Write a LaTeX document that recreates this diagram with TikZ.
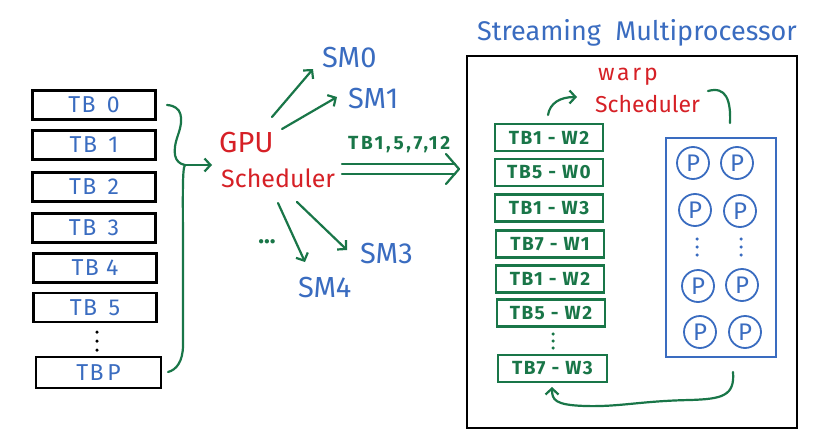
\documentclass[tikz,border=0pt]{standalone}
\usepackage{fontspec}
\setmainfont{Fira Sans}
\usetikzlibrary{arrows.meta}
\definecolor{hgreen}{RGB}{25,118,72}
\definecolor{hblue}{RGB}{58,108,192}
\definecolor{hred}{RGB}{214,32,38}
\tikzset{
  tbbox/.style={draw=black, line width=2.6pt, minimum width=123pt, minimum height=29pt, inner sep=0pt, text=hblue, font=\fontsize{23}{23}\selectfont\addfontfeatures{LetterSpace=6}},
  wbox/.style={draw=hgreen, line width=2.4pt, minimum width=108pt, minimum height=27pt, inner sep=0pt, text=hgreen, font=\fontsize{19}{19}\selectfont\bfseries\addfontfeatures{LetterSpace=8}},
  pcirc/.style={circle, draw=hblue, line width=1.8pt, minimum size=32pt, inner sep=0pt, text=hblue, font=\fontsize{24}{24}\selectfont},
  smlab/.style={text=hblue, font=\fontsize{29}{29}\selectfont, inner sep=0pt},
  redlab/.style={text=hred, inner sep=0pt},
  garrow/.style={draw=hgreen, line width=2.2pt, line cap=round, -{Straight Barb[length=6pt,width=13pt,line width=2.2pt]}},
  gline/.style={draw=hgreen, line width=2.2pt, line cap=round},
  dotg/.style={circle, fill=#1, inner sep=0pt, minimum size=3.5pt},
}
\begin{document}
\begin{tikzpicture}[x=1pt,y=-1pt]
\useasboundingbox (0,0) rectangle (814,439);
\fill[white] (0,0) rectangle (814,439);

% thread blocks
\node[tbbox] (tb0) at (94,105) {TB\ \,0};
\node[tbbox] (tb1) at (94,145) {TB\ \,1};
\node[tbbox] (tb2) at (94,187) {TB\ \,2};
\node[tbbox] (tb3) at (94,228) {TB\ \,3};
\node[tbbox] (tb4) at (95,268) {TB\ 4};
\node[tbbox] (tb5) at (95,307.5) {TB\ \,5};
\node[dotg=black] (d1) at (97,332) {};
\node[dotg=black] (d2) at (97,341) {};
\node[dotg=black] (d3) at (97,350) {};
\node[tbbox, minimum width=125pt, minimum height=31pt] (tbp) at (98.5,372.5) {TB\,P};

% brace
\coordinate (btop) at (167,105);
\coordinate (btip) at (185,165);
\coordinate (bbot) at (168,372);
\coordinate (bend) at (212,165);
\draw[gline] (btop) .. controls (182,106) and (184,118) .. (178,135)
  .. controls (172,152) and (174,163) .. (btip);
\draw[gline] (btip) .. controls (182,168) and (183,200) .. (183,260)
  -- (183,345) .. controls (183,362) and (176,370) .. (bbot);
\draw[garrow] (btip) -- (bend);

% GPU scheduler
\node[redlab, font=\fontsize{29}{29}\selectfont, anchor=base west] (gpu) at (219,152) {GPU};
\node[redlab, font=\fontsize{25}{25}\selectfont, anchor=base west] (sched) at (221,187) {Scheduler};

% SMs
\node[smlab, anchor=base west] (sm0) at (322,67) {SM0};
\node[smlab, anchor=base west] (sm1) at (348,108) {SM1};
\node[smlab, anchor=base west] (sm3) at (360,263) {SM3};
\node[smlab, anchor=base west] (sm4) at (298,297) {SM4};
\node[text=hgreen, font=\fontsize{24}{24}\selectfont\bfseries, inner sep=0pt] (ell) at (267,242) {...};

\coordinate (a0s) at (272,117); \coordinate (a0e) at (313,69);
\coordinate (a1s) at (282,129); \coordinate (a1e) at (337,97);
\coordinate (a4s) at (278,203); \coordinate (a4e) at (305,262);
\coordinate (a3s) at (297,202); \coordinate (a3e) at (347,250);
\draw[garrow] (a0s) -- (a0e);
\draw[garrow] (a1s) -- (a1e);
\draw[garrow] (a4s) -- (a4e);
\draw[garrow] (a3s) -- (a3e);

% double arrow to SM
\node[text=hgreen, font=\fontsize{19}{19}\selectfont\bfseries\addfontfeatures{LetterSpace=14}, inner sep=0pt, anchor=base west] (tblist) at (348,149) {TB1,5,7,12};
\coordinate (da1) at (342,164); \coordinate (da1e) at (455,164);
\coordinate (da2) at (342,174); \coordinate (da2e) at (455,174);
\coordinate (dtip) at (459,169);
\draw[gline] (da1) -- (da1e);
\draw[gline] (da2) -- (da2e);
\draw[gline, line join=round] (446,154) -- (dtip) -- (446,184);

% Streaming multiprocessor
\node[text=hblue, font=\fontsize{27}{27}\selectfont, inner sep=0pt, anchor=base] (smtitle) at (637,40) {Streaming\ \ Multiprocessor};
\draw[black, line width=2.8pt] (467,56) rectangle (797,428);
\node[redlab, font=\fontsize{23}{23}\selectfont\addfontfeatures{LetterSpace=12}, anchor=base west] (warp) at (598,80) {warp};
\node[redlab, font=\fontsize{23}{23}\selectfont, anchor=base west] (wsched) at (595,112) {Scheduler};

% warp queue
\node[wbox] (w1) at (549,137.5) {TB1 - W2};
\node[wbox] (w2) at (549,172.5) {TB5 - W0};
\node[wbox] (w3) at (549,208) {TB1 - W3};
\node[wbox] (w4) at (550,244) {TB7 - W1};
\node[wbox] (w5) at (550,279) {TB1 - W2};
\node[wbox] (w6) at (551,313) {TB5 - W2};
\node[dotg=hgreen] (wd1) at (553,334) {};
\node[dotg=hgreen] (wd2) at (553,341) {};
\node[dotg=hgreen] (wd3) at (553,348) {};
\node[wbox, minimum width=109pt] (w7) at (552.5,368.5) {TB7 - W3};

% processors
\node[draw=hblue, line width=1.8pt, minimum width=110pt, minimum height=219pt, inner sep=0pt] (pbox) at (721,247.5) {};
\node[pcirc] (p11) at (693,163) {P};
\node[pcirc] (p12) at (737,163) {P};
\node[pcirc] (p21) at (695,210) {P};
\node[pcirc] (p22) at (740,211) {P};
\node[dotg=hblue] (pd1) at (697,239) {};
\node[dotg=hblue] (pd2) at (697,247) {};
\node[dotg=hblue] (pd3) at (697,255) {};
\node[dotg=hblue] (pd4) at (741,239) {};
\node[dotg=hblue] (pd5) at (741,247) {};
\node[dotg=hblue] (pd6) at (741,255) {};
\node[pcirc] (p31) at (698,286) {P};
\node[pcirc] (p32) at (742,285) {P};
\node[pcirc] (p41) at (700,332) {P};
\node[pcirc] (p42) at (745,332) {P};

% warp scheduler arrows
\coordinate (c1s) at (548,115); \coordinate (c1e) at (577,97);
\draw[garrow] (c1s) .. controls (550,103) and (560,97) .. (c1e);
\coordinate (c2s) at (708,91); \coordinate (c2e) at (730,123);
\draw[gline] (c2s) .. controls (726,86) and (731,100) .. (c2e);
\coordinate (c3s) at (733,372); \coordinate (c3e) at (552,387);
\draw[garrow] (c3s) .. controls (735,396) and (722,399) .. (690,400)
  .. controls (640,401) and (620,407) .. (585,406)
  .. controls (555,405) and (552,400) .. (c3e);
\end{tikzpicture}
\end{document}
